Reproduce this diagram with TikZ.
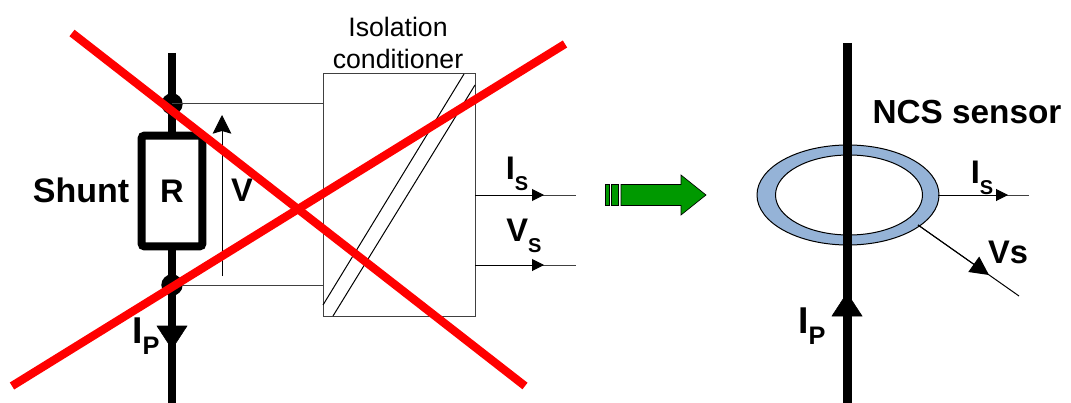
\documentclass[tikz,border=0pt]{standalone}
\usepackage{fontspec}
\setmainfont{Liberation Sans}
\usetikzlibrary{arrows.meta}
\definecolor{ringblue}{HTML}{95B3D7}
\definecolor{arrowgreen}{HTML}{009900}
\tikzset{
  wire/.style={line width=0.75pt,black!75},
  bus/.style={line width=6pt},
  cross/.style={line width=6.2pt,red},
  lbl/.style={inner sep=0pt,font=\fontsize{24.5}{26}\bfseries\selectfont},
  tip/.style={-{Triangle[length=9pt,width=9pt]},line width=0.75pt},
  busdot/.style={circle,fill=black,minimum size=16pt,inner sep=0pt},
}
\newcommand{\subl}[2]{#1\raisebox{-0.35em}{\fontsize{15}{15}\bfseries\selectfont #2}}
\begin{document}
\begin{tikzpicture}[x=0.75pt,y=-0.75pt]
\useasboundingbox (0,0) rectangle (1071,403);
% left side
\coordinate (bustop) at (172,53);
\coordinate (busbot) at (172,403);
\draw[bus] (bustop)--(busbot);
\draw[fill=black] (157,326)--(187,326)--(172,349)--cycle;
\node[busdot] (dot1) at (172,104) {};
\node[busdot] (dot2) at (172,285) {};
\node[draw,fill=white,line width=6pt,rounded corners=2pt,minimum width=45.5pt,minimum height=83pt,inner sep=0pt,font=\fontsize{24.5}{26}\bfseries\selectfont] (shunt) at (172,191) {R};
\node[lbl,font=\fontsize{25.5}{26}\bfseries\selectfont] (shuntl) at (81,190) {Shunt};
\node[draw,black!75,line width=0.75pt,minimum width=114pt,minimum height=182pt,inner sep=0pt] (cond) at (399,195) {};
\node[inner sep=0pt,align=center,font=\fontsize{20}{24}\selectfont] (condl) at (398,43) {Isolation\\conditioner};
\draw[wire] (dot1.center)--(dot1.center-|cond.west);
\draw[wire] (dot2.center)--(dot2.center-|cond.west);
\coordinate (v0) at (222,276);
\coordinate (v1) at (222,115);
\draw[-{Triangle[length=14pt,width=14pt,inset=2pt]},line width=0.75pt] (v0)--(v1);
\node[lbl] (vl) at (242,190) {V};
\coordinate (sa0) at (323,305);
\coordinate (sa1) at (464,74);
\coordinate (sb0) at (333,316);
\coordinate (sb1) at (475,85);
\draw[line width=0.75pt] (sa0)--(sa1);
\draw[line width=0.75pt] (sb0)--(sb1);
\coordinate (is0) at (475,195);
\coordinate (is1) at (544,195);
\coordinate (is2) at (576,195);
\coordinate (vs0) at (475,265);
\coordinate (vs1) at (544,265);
\coordinate (vs2) at (576,265);
\draw[wire] (is0)--(is2);
\draw[wire] (vs0)--(vs2);
\draw[tip] (is0)--(is1);
\draw[tip] (vs0)--(vs1);
\node[lbl] (isl) at (517,174) {\subl{I}{S}};
\node[lbl] (vsl) at (524,236) {\subl{V}{S}};
\node[lbl,font=\fontsize{28}{28}\bfseries\selectfont] (ipll) at (146,336) {I\raisebox{-0.3em}{\fontsize{19}{19}\bfseries\selectfont P}};
% green arrow
\node[draw,fill=arrowgreen,line width=0.5pt,minimum width=3pt,minimum height=15.5pt,inner sep=0pt] (g1) at (607,195) {};
\node[draw,fill=arrowgreen,line width=0.5pt,minimum width=5pt,minimum height=15.5pt,inner sep=0pt] (g2) at (614.5,195) {};
\draw[fill=arrowgreen,line width=0.5pt] (621,184.5)--(681,184.5)--(681,175)--(706,195)--(681,215)--(681,205.5)--(621,205.5)--cycle;
% right side
\coordinate (ntop) at (847,43);
\coordinate (nbot) at (847,403);
\draw[bus,line width=6.75pt] (ntop)--(nbot);
\draw[fill=black] (832,316)--(862,316)--(847,293)--cycle;
\draw[fill=ringblue,even odd rule,line width=0.75pt] (848,195) ellipse [x radius=91,y radius=50] (849,195) ellipse [x radius=73.5,y radius=40];
\draw[line width=6.75pt] (847,145)--(847,245);
\coordinate (ris0) at (938,195);
\coordinate (ris1) at (1008,195);
\coordinate (ris2) at (1029,195);
\coordinate (rvs0) at (918,225);
\coordinate (rvs1) at (989,275);
\coordinate (rvs2) at (1019,296);
\draw[wire] (ris0)--(ris2);
\draw[tip] (ris0)--(ris1);
\draw[line width=0.75pt] (rvs0)--(rvs2);
\draw[-{Triangle[length=14pt,width=14pt]},line width=0.75pt] (rvs0)--(rvs1);
\node[lbl] (rvsl) at (1008,252) {Vs};
\node[lbl] (risl) at (982,178) {\subl{I}{S}};
\node[lbl,font=\fontsize{28}{28}\bfseries\selectfont] (ripl) at (812,326) {I\raisebox{-0.3em}{\fontsize{19}{19}\bfseries\selectfont P}};
\node[lbl,font=\fontsize{25}{26}\bfseries\selectfont] (ncsl) at (967,112) {NCS sensor};
% red cross
\coordinate (xa0) at (72,33);
\coordinate (xa1) at (525,386);
\coordinate (xb0) at (12,386);
\coordinate (xb1) at (565,44);
\draw[cross] (xa0)--(xa1);
\draw[cross] (xb0)--(xb1);
\end{tikzpicture}
\end{document}
